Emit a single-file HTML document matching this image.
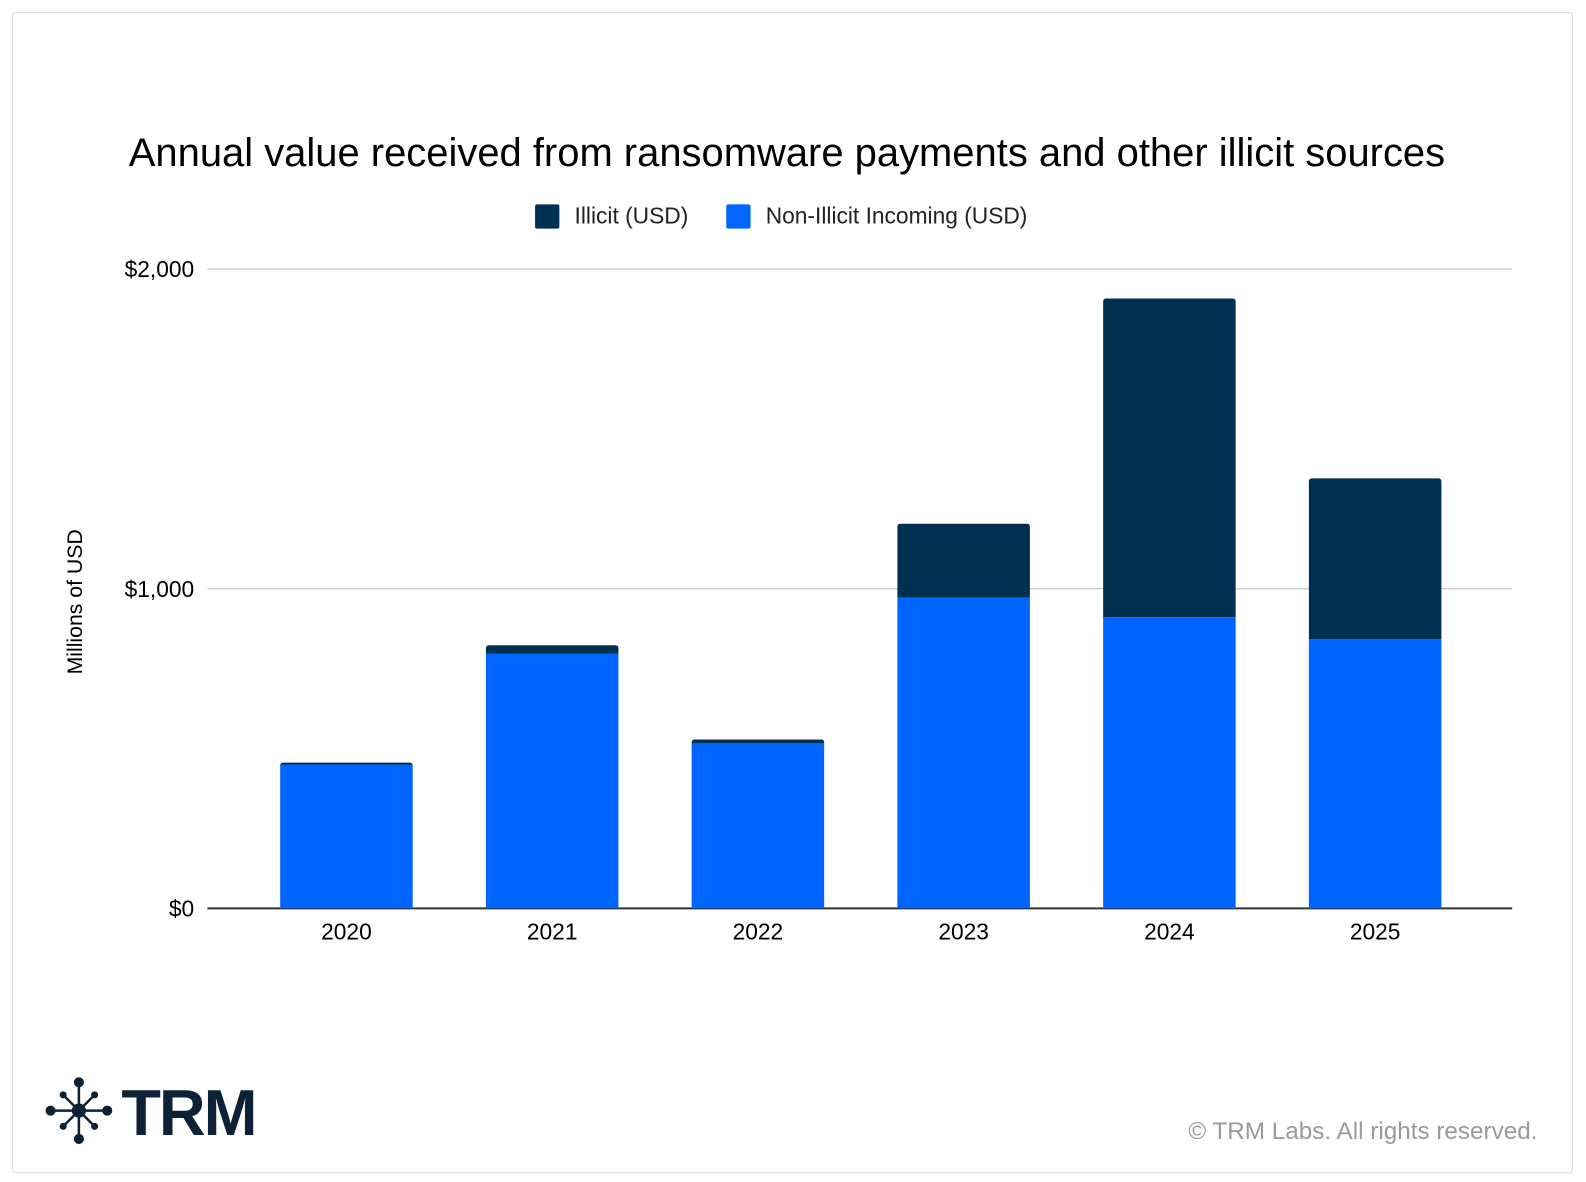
<!DOCTYPE html>
<html><head><meta charset="utf-8"><style>
html,body{margin:0;padding:0;background:#fff;}
body{width:1586px;height:1182px;position:relative;overflow:hidden;font-family:"Liberation Sans",sans-serif;}
</style></head><body>
<svg id="chart" width="1586" height="1182" style="position:absolute;left:0;top:0">
<g transform="scale(1.0115)">
<rect x="12.5" y="12.5" width="1542" height="1147" rx="3" fill="none" stroke="#d8d8d8" stroke-width="1"/>
<text x="778" y="164" text-anchor="middle" font-size="39.5" fill="#000">Annual value received from ransomware payments and other illicit sources</text>
<g>
<rect x="529" y="202" width="24" height="24" rx="2" fill="#00304f"/>
<text x="568" y="221" font-size="22.5" fill="#222">Illicit (USD)</text>
<rect x="718" y="202" width="24" height="24" rx="2" fill="#0064ff"/>
<text x="757" y="221" font-size="22.5" fill="#222">Non-Illicit Incoming (USD)</text>
</g>
<text transform="translate(81,595) rotate(-90)" text-anchor="middle" font-size="21" fill="#000">Millions of USD</text>
<g id="grid"></g><g id="bars"></g><g id="xlabels"></g>
<g id="logo"></g>
<text x="120" y="1122" font-size="64" font-weight="bold" fill="#0d2236" letter-spacing="-2">TRM</text>
<text x="1520" y="1126" text-anchor="end" font-size="24" fill="#9a9a9a">© TRM Labs. All rights reserved.</text>
</g>
</svg>
<script>
const categories=["2020","2021","2022","2023","2024","2025"];
const nonIllicit=[450,797,516,972,911,842];
const illicit=[6,26,12,231,997,503];
const yTicks=[0,1000,2000];
const yTickLabels=["$0","$1,000","$2,000"];
const NS="http://www.w3.org/2000/svg";
const y0=898,y1=266,yMax=2000;
const y=v=>y0-(v/yMax)*(y0-y1);
const bandStart=240.8,bandW=203.4,barW=131;
const xc=i=>bandStart+bandW*(i+0.5);
function mk(tag,attrs,parent){const e=document.createElementNS(NS,tag);for(const k in attrs)e.setAttribute(k,attrs[k]);parent.appendChild(e);return e;}
const grid=document.getElementById('grid');
yTicks.forEach((t,i)=>{
 const l=mk('line',{x1:205,x2:1495,y1:y(t),y2:y(t),stroke:t===0?'#333':'#ccc','stroke-width':t===0?2:1.3},grid);
 
 
 const tx=mk('text',{x:192,y:y(t)+8,'text-anchor':'end','font-size':22.5,fill:'#000'},grid);
 tx.textContent=yTickLabels[i];
 
 
});
const bars=document.getElementById('bars'),xl=document.getElementById('xlabels');
categories.forEach((c,i)=>{
 const x=xc(i)-barW/2;
 const b=mk('rect',{x:x,y:y(nonIllicit[i]),width:barW,height:y(0)-y(nonIllicit[i]),fill:'#0064ff'},bars);
 
 
 const top=nonIllicit[i]+illicit[i];
 const p=mk('path',{d:`M${x},${y(nonIllicit[i])}V${y(top)+3}Q${x},${y(top)} ${x+3},${y(top)}H${x+barW-3}Q${x+barW},${y(top)} ${x+barW},${y(top)+3}V${y(nonIllicit[i])}Z`,fill:'#00304f'},bars);
 
 
 const t=mk('text',{x:xc(i),y:929,'text-anchor':'middle','font-size':22.5,fill:'#000'},xl);
 t.textContent=c;
 
 
});
const logo=document.getElementById('logo');const cx=78,cy=1098;
for(let k=0;k<8;k++){const a=k*Math.PI/4;const r=k%2?22:28;const px=cx+r*Math.cos(a),py=cy+r*Math.sin(a);
 mk('line',{x1:cx,y1:cy,x2:px,y2:py,stroke:'#0d2236','stroke-width':2.5},logo);
 mk('circle',{cx:px,cy:py,r:k%2?3.5:5,fill:'#0d2236'},logo);}
mk('circle',{cx:cx,cy:cy,r:7,fill:'#0d2236'},logo);
</script>
</body></html>
